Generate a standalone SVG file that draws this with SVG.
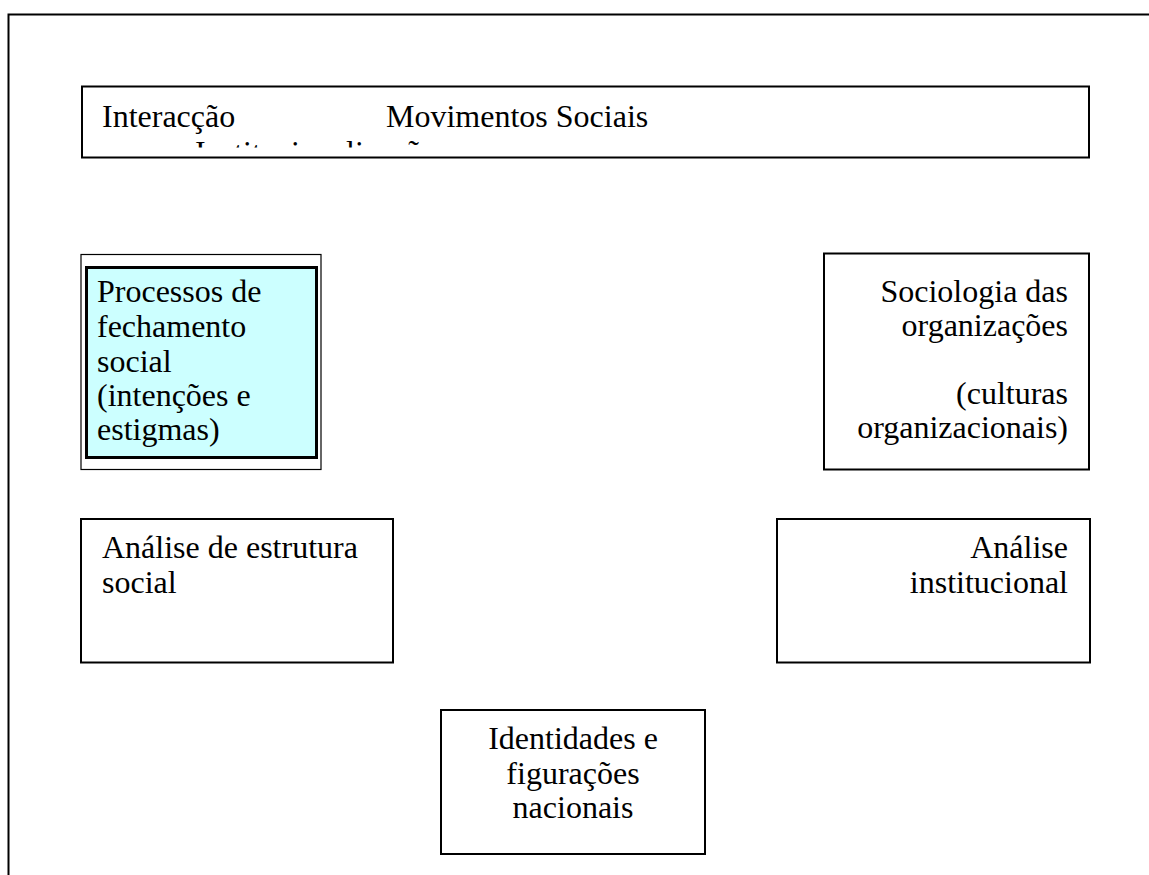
<svg xmlns="http://www.w3.org/2000/svg" width="1149" height="875" viewBox="0 0 1149 875">
<style>
.t{font-family:"Liberation Serif","Times New Roman",serif;font-size:32px;fill:#000}
.box{fill:#fff;stroke:#000;stroke-width:2}
.e{text-anchor:end}
.m{text-anchor:middle}
</style>
<defs>
<clipPath id="topclip"><rect x="83" y="87" width="1005" height="70"/></clipPath>
<clipPath id="lineclip"><rect x="83" y="87" width="1005" height="60.5"/></clipPath>
</defs>
<rect width="1149" height="875" fill="#fff"/>
<g id="frame">
<path d="M8.5 875 V14.5 H1149" fill="none" stroke="#000" stroke-width="2"/>
</g>
<g id="connectors"></g>
<g id="top">
<rect class="box" x="82" y="86.5" width="1007" height="71"/>
<g clip-path="url(#topclip)">
<text class="t" x="102" y="126.5">Interacção</text>
<text class="t" x="386" y="126.5">Movimentos Sociais</text>
</g>
<g clip-path="url(#lineclip)">
<text class="t" x="195" y="163">Institucionalização</text>
</g>
</g>
<g id="processos">
<rect x="81" y="254.5" width="240" height="215" fill="#fff" stroke="#000" stroke-width="1.2"/>
<rect x="86.5" y="267.5" width="230" height="190" fill="#ccffff" stroke="#000" stroke-width="3"/>
<text class="t"><tspan x="97" y="302">Processos de</tspan><tspan x="97" y="337">fechamento</tspan><tspan x="97" y="372">social</tspan><tspan x="97" y="406">(intenções e</tspan><tspan x="97" y="440">estigmas)</tspan></text>
</g>
<g id="sociologia">
<rect class="box" x="824" y="253.5" width="265" height="216"/>
<text class="t e"><tspan x="1068" y="302">Sociologia das</tspan><tspan x="1068" y="336">organizações</tspan><tspan x="1068" y="404">(culturas</tspan><tspan x="1068" y="438">organizacionais)</tspan></text>
</g>
<g id="estrutura">
<rect class="box" x="81" y="519" width="312" height="143.5"/>
<text class="t"><tspan x="102" y="558">Análise de estrutura</tspan><tspan x="102" y="593">social</tspan></text>
</g>
<g id="institucional">
<rect class="box" x="777" y="519" width="313" height="143.5"/>
<text class="t e"><tspan x="1068" y="558">Análise</tspan><tspan x="1068" y="593">institucional</tspan></text>
</g>
<g id="identidades">
<rect class="box" x="441" y="710" width="264" height="144"/>
<text class="t m"><tspan x="573" y="749">Identidades e</tspan><tspan x="573" y="784">figurações</tspan><tspan x="573" y="818">nacionais</tspan></text>
</g>
</svg>
